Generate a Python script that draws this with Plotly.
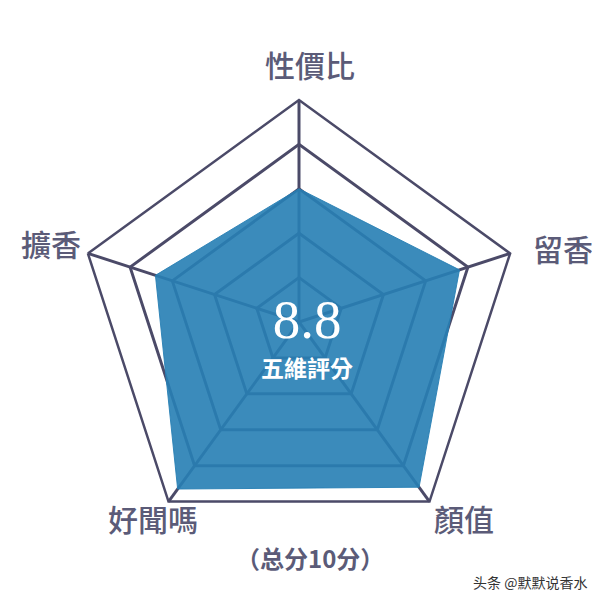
import plotly.graph_objects as go

# five scoring dimensions, clockwise from top
categories = ["性價比", "留香", "顏值", "好聞嗎", "擴香"]
scores = [6.0, 7.6, 9.2, 9.3, 6.8]
total_score = "8.8"

grid_color = "#4b4a68"
label_color = "#5b5b78"
cjk = "Noto Sans CJK TC"

fig = go.Figure()

# close the polygon
theta = categories + categories[:1]
r = scores + scores[:1]

fig.add_trace(go.Scatterpolar(
    r=r,
    theta=theta,
    fill="toself",
    fillcolor="rgba(40,128,180,0.91)",
    line=dict(color="rgba(40,128,180,0.91)", width=1),
    mode="lines",
    hoverinfo="skip",
    showlegend=False,
))

fig.update_layout(
    width=600,
    height=600,
    margin=dict(l=0, r=0, t=0, b=0),
    paper_bgcolor="white",
    plot_bgcolor="white",
    showlegend=False,
    polar=dict(
        domain=dict(x=[69 / 600, 513 / 600], y=[64 / 600, 508 / 600]),
        bgcolor="white",
        gridshape="linear",
        radialaxis=dict(
            range=[0, 10],
            dtick=2,
            showticklabels=False,
            ticks="",
            showline=False,
            gridcolor=grid_color,
            gridwidth=2.5,
        ),
        angularaxis=dict(
            rotation=90,
            direction="clockwise",
            showticklabels=False,
            ticks="",
            showline=True,
            linecolor=grid_color,
            linewidth=2.5,
            gridcolor=grid_color,
            gridwidth=2.5,
        ),
    ),
)

# axis labels placed around the pentagon
label_pos = {
    "性價比": (302, 56),
    "留香": (555, 240),
    "顏值": (456, 510),
    "好聞嗎": (145, 510),
    "擴香": (43, 235),
}
for name in categories:
    px_, py_ = label_pos[name]
    fig.add_annotation(
        x=px_ / 600, y=1 - py_ / 600, xref="paper", yref="paper",
        text=name, showarrow=False,
        font=dict(family=cjk, size=30, color=label_color, weight=500),
        xanchor="center", yanchor="middle",
    )

# center score, big number over the caption in one text block
center_text = (
    "<span style='font-family:Liberation Serif;font-size:55px'>"
    + total_score
    + "</span><br><span style='font-size:23px'><b>五維評分</b></span>"
)
fig.add_annotation(
    x=299 / 600, y=1 - 328 / 600, xref="paper", yref="paper",
    text=center_text, showarrow=False,
    font=dict(family=cjk, size=30, color="white"),
    xanchor="center", yanchor="middle", align="center",
)

# footnote and watermark
fig.add_annotation(
    x=302 / 600, y=1 - 549 / 600, xref="paper", yref="paper",
    text="<b>（总分10分）</b>", showarrow=False,
    font=dict(family="Noto Sans CJK SC", size=24, color=label_color),
    xanchor="center", yanchor="middle",
)
fig.add_annotation(
    x=522 / 600, y=1 - 574 / 600, xref="paper", yref="paper",
    text="头条 @默默说香水", showarrow=False,
    font=dict(family="Noto Sans CJK SC", size=14, color="#333333"),
    xanchor="center", yanchor="middle",
)

fig.write_html("out.html")
